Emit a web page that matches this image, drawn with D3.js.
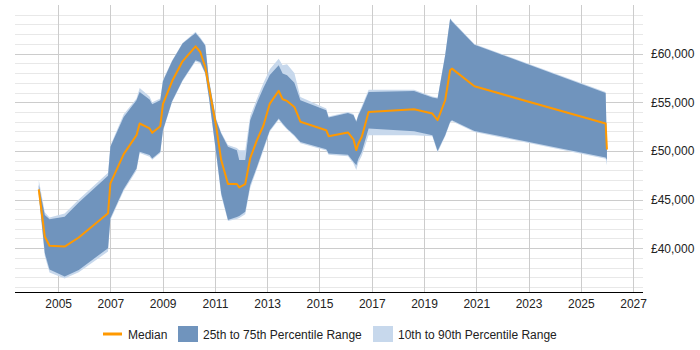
<!DOCTYPE html>
<html>
<head>
<meta charset="utf-8">
<script src="https://cdn.jsdelivr.net/npm/d3@7"></script>
<style>
  body { margin: 0; background: #fff; }
  text { font-family: "Liberation Sans", Arial, sans-serif; }
</style>
</head>
<body>
<div id="chart"></div>
<script>
// salary percentiles by date (decimal year)
var years = [2004.26, 2004.49, 2004.67, 2005.25, 2005.79, 2006.91, 2007.00, 2007.51, 2008.00, 2008.12,
             2008.50, 2008.60, 2008.91, 2009.01, 2009.36, 2009.76, 2010.26, 2010.44, 2010.63, 2010.77,
             2011.05, 2011.24, 2011.50, 2011.84, 2011.93, 2012.16, 2012.35, 2012.60, 2012.86, 2013.10,
             2013.44, 2013.59, 2013.76, 2014.04, 2014.27, 2015.26, 2015.35, 2016.09, 2016.30, 2016.41,
             2016.49, 2016.62, 2016.88, 2018.62, 2019.32, 2019.52, 2019.81, 2020.00, 2020.07, 2020.93,
             2025.95, 2026.00];
var median = [46050, 41200, 40250, 40170, 41100, 43590, 46670, 49670, 51620, 52820,
              52310, 51860, 52540, 54800, 57160, 59210, 60750, 60170, 58630, 56580,
              52480, 49060, 46600, 46600, 46250, 46600, 49250, 51050, 52640, 54870,
              56170, 55310, 55140, 54520, 53000, 52130, 51520, 51900, 51200, 50080,
              50770, 51450, 54010, 54290, 53840, 53160, 55210, 58290, 58460, 56640,
              52820, 50150];
var p25 = [45600, 39500, 37800, 37100, 37770, 40000, 43080, 46080, 48200, 49910,
           49570, 49230, 49910, 52130, 55110, 57260, 59310, 59140, 58000, 55550,
           49740, 45640, 42900, 43200, 43300, 43760, 46500, 48300, 50300, 52130,
           53330, 52820, 52310, 51620, 50930, 50180, 49740, 49600, 48900, 48540,
           49200, 49910, 52310, 52030, 51620, 50000, 51620, 52990, 53160, 52060,
           49330, 49100];
var p75 = [46500, 43420, 42970, 43240, 44700, 47450, 50420, 53500, 55210, 56070,
           55280, 54800, 55210, 57160, 59210, 61030, 62110, 61540, 60850, 57260,
           53160, 51790, 50420, 50080, 49060, 49060, 53160, 54900, 56500, 57800,
           58800, 57950, 57770, 57000, 55210, 54180, 53430, 53900, 53700, 52990,
           53670, 54400, 56070, 56170, 55500, 55380, 59820, 63590, 63300, 60920,
           55960, 50300];
var p10 = [45300, 39200, 37500, 36900, 37540, 39660, 42900, 45900, 48000, 49800,
           49400, 49100, 49800, 52000, 55000, 57150, 59200, 59000, 57900, 55400,
           49600, 45400, 42800, 43000, 43100, 43500, 46200, 48100, 50100, 52000,
           53200, 52700, 52200, 51500, 50800, 50050, 49600, 49450, 48700, 48030,
           48800, 49500, 51620, 51620, 51500, 49850, 51500, 52900, 53050, 51950,
           49200, 48540];
var p90 = [47000, 43700, 43150, 43580, 45000, 47760, 50550, 53770, 55400, 56480,
           55600, 55000, 55400, 57300, 59300, 61100, 62250, 61650, 60950, 57400,
           53300, 51900, 50600, 50300, 50080, 50080, 53600, 55300, 57000, 58400,
           59480, 58800, 58900, 58000, 55550, 54350, 53550, 54000, 53800, 53100,
           53800, 54600, 56300, 56300, 55600, 55500, 59900, 63650, 63400, 61000,
           56050, 50400];

var xTickYears = [2005, 2007, 2009, 2011, 2013, 2015, 2017, 2019, 2021, 2023, 2025, 2027];
var yLabelValues = [40000, 45000, 50000, 55000, 60000];

var legendItems = [
  { label: "Median", kind: "line", color: "#ff9900" },
  { label: "25th to 75th Percentile Range", kind: "box", color: "#7094bd" },
  { label: "10th to 90th Percentile Range", kind: "box", color: "#c7d8ec" }
];

(function() {
var width = 700, height = 350;
var mLeft = 15, mRight = 643, mTop = 5, mBottom = 292;

var data = years.map(function(yr, i) {
  return { year: yr, med: median[i], p25: p25[i], p75: p75[i], p10: p10[i], p90: p90[i] };
});

var x = d3.scaleLinear().domain([2003.35, 2027.38]).range([mLeft, mRight]);
var y = d3.scaleLinear().domain([35500, 65000]).range([mBottom, mTop]);

var svg = d3.select("#chart").append("svg")
    .attr("width", width)
    .attr("height", height);

// horizontal grid: minor every 1000, darker every 5000
var minor = d3.range(36000, 65000, 1000);
svg.append("g").selectAll("line")
    .data(minor)
    .enter().append("line")
    .attr("x1", mLeft).attr("x2", mRight)
    .attr("y1", function(d) { return Math.round(y(d)) + 0.5; })
    .attr("y2", function(d) { return Math.round(y(d)) + 0.5; })
    .attr("stroke", function(d) { return d % 5000 == 0 ? "#cccccc" : "#e8e8e8"; })
    .attr("stroke-width", 1);

// vertical grid
svg.append("g").selectAll("line")
    .data(xTickYears)
    .enter().append("line")
    .attr("x1", function(d) { return Math.round(x(d)) + 0.5; })
    .attr("x2", function(d) { return Math.round(x(d)) + 0.5; })
    .attr("y1", mTop).attr("y2", mBottom)
    .attr("stroke", "#cccccc");

var area90 = d3.area()
    .x(function(d) { return x(d.year); })
    .y0(function(d) { return y(d.p10); })
    .y1(function(d) { return y(d.p90); });

var area75 = d3.area()
    .x(function(d) { return x(d.year); })
    .y0(function(d) { return y(d.p25); })
    .y1(function(d) { return y(d.p75); });

var line = d3.line()
    .x(function(d) { return x(d.year); })
    .y(function(d) { return y(d.med); });

svg.append("path").datum(data)
    .attr("d", area90)
    .attr("fill", "#c7d8ec");

svg.append("path").datum(data)
    .attr("d", area75)
    .attr("fill", "#7094bd");

svg.append("path").datum(data)
    .attr("d", line)
    .attr("fill", "none")
    .attr("stroke", "#ff9900")
    .attr("stroke-width", 2)
    .attr("stroke-linejoin", "round");

// x axis
var xAxis = d3.axisBottom(x)
    .tickValues(xTickYears)
    .tickFormat(d3.format("d"))
    .tickSize(0)
    .tickPadding(7);

var gx = svg.append("g")
    .attr("transform", "translate(0," + mBottom + ")")
    .call(xAxis);
gx.select(".domain").attr("stroke", "#000").attr("d", "M" + mLeft + ",0.5H" + mRight);
gx.selectAll("text").attr("font-size", 12).attr("fill", "#222")
    .attr("font-family", "Liberation Sans, Arial, sans-serif");

// y axis on the right
var yAxis = d3.axisRight(y)
    .tickValues(yLabelValues)
    .tickFormat(function(d) { return "£" + d3.format(",")(d); })
    .tickSize(0)
    .tickPadding(8);

var gy = svg.append("g")
    .attr("transform", "translate(" + mRight + ",0)")
    .call(yAxis);
gy.select(".domain").remove();
gy.selectAll("text").attr("font-size", 12).attr("fill", "#222")
    .attr("font-family", "Liberation Sans, Arial, sans-serif");

// legend
var legend = svg.append("g").attr("transform", "translate(0,334)");
var lx = [103, 178, 373];
legendItems.forEach(function(item, i) {
  var g = legend.append("g").attr("transform", "translate(" + lx[i] + ",0)");
  if (item.kind == "line") {
    g.append("line").attr("x1", 0).attr("x2", 19).attr("y1", 0).attr("y2", 0)
      .attr("stroke", item.color).attr("stroke-width", 3);
  } else {
    g.append("rect").attr("x", 0).attr("y", -8).attr("width", 20).attr("height", 16)
      .attr("fill", item.color);
  }
  g.append("text")
    .attr("x", 25)
    .attr("y", 4.5)
    .attr("font-size", 12)
    .attr("fill", "#222")
    .text(item.label);
});
})();
</script>
</body>
</html>
